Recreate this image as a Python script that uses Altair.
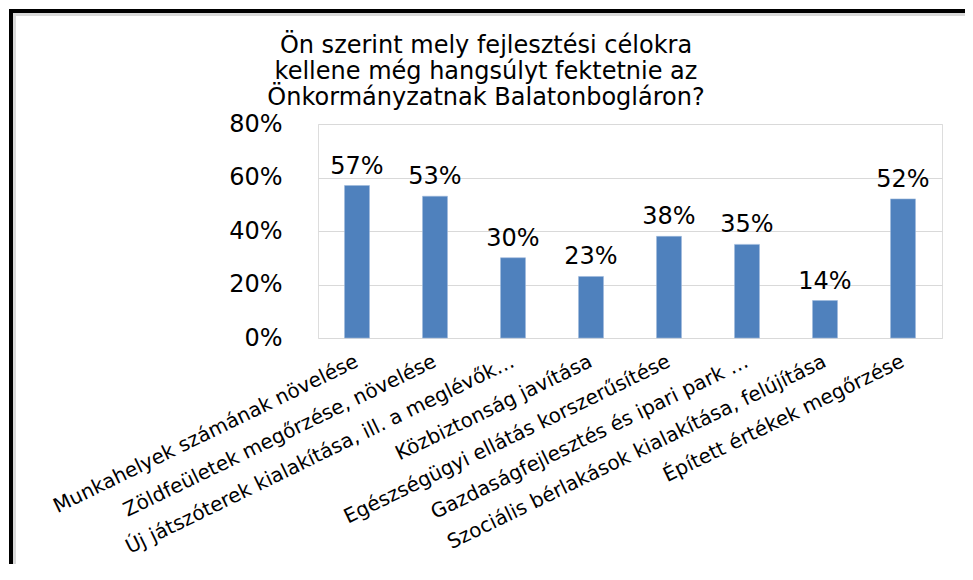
import altair as alt
import pandas as pd

categories = [
    "Munkahelyek számának növelése",
    "Zöldfeületek megőrzése, növelése",
    "Új játszóterek kialakítása, ill. a meglévők…",
    "Közbiztonság javítása",
    "Egészségügyi ellátás korszerűsítése",
    "Gazdaságfejlesztés és ipari park …",
    "Szociális bérlakások kialakítása, felújítása",
    "Épített értékek megőrzése",
]
values = [0.57, 0.53, 0.30, 0.23, 0.38, 0.35, 0.14, 0.52]
y_ticks = [0, 0.2, 0.4, 0.6, 0.8]
title_lines = [
    "Ön szerint mely fejlesztési célokra",
    "kellene még hangsúlyt fektetnie az",
    "Önkormányzatnak Balatonbogláron?",
]

FONT = "DejaVu Sans"
df = pd.DataFrame({"cat": categories, "val": values})

x_enc = alt.X(
    "cat:N",
    sort=None,
    title=None,
    scale=alt.Scale(paddingInner=0.68, paddingOuter=0.34),
    axis=alt.Axis(
        labelAngle=-26,
        labelAlign="right",
        labelBaseline="middle",
        labelPadding=22,
        labelFontSize=20,
        labelFont=FONT,
        labelColor="black",
        labelLimit=800,
        ticks=False,
        domain=False,
        grid=False,
    ),
)
y_enc = alt.Y(
    "val:Q",
    title=None,
    scale=alt.Scale(domain=[0, 0.8], nice=False),
    axis=alt.Axis(
        values=y_ticks,
        format=".0%",
        labelFontSize=24,
        labelFont=FONT,
        labelColor="black",
        labelPadding=36,
        ticks=False,
        domain=False,
        gridColor="#d9d9d9",
        gridWidth=1,
    ),
)

base = alt.Chart(df)
bars = base.mark_bar(color="#4F81BD", stroke="#9db8dc", strokeWidth=0.6).encode(x=x_enc, y=y_enc)
labels = base.mark_text(
    baseline="alphabetic", dy=-12, fontSize=24, font=FONT, color="black"
).encode(x=alt.X("cat:N", sort=None), y="val:Q", text=alt.Text("val:Q", format=".0%"))

one = alt.Data(values=[{"k": 1}])
title_mark = alt.Chart(one).mark_text(
    align="center",
    baseline="alphabetic",
    fontSize=24,
    font=FONT,
    color="black",
    lineHeight=26,
    lineBreak="\n",
).encode(x=alt.value(168), y=alt.value(-71), text=alt.value("\n".join(title_lines)))

frame_top = alt.Chart(one).mark_rule(color="black", strokeWidth=4).encode(
    x=alt.value(-309), x2=alt.value(647), y=alt.value(-113)
)
frame_left = alt.Chart(one).mark_rule(color="black", strokeWidth=4).encode(
    x=alt.value(-307), y=alt.value(-115), y2=alt.value(440)
)
shadow_top = alt.Chart(one).mark_rule(color="#d9d9d9", strokeWidth=3).encode(
    x=alt.value(-305), x2=alt.value(647), y=alt.value(-109.5)
)
shadow_left = alt.Chart(one).mark_rule(color="#d9d9d9", strokeWidth=3).encode(
    x=alt.value(-303.5), y=alt.value(-111), y2=alt.value(440)
)

chart = (
    alt.layer(shadow_top, shadow_left, frame_top, frame_left, title_mark, bars, labels)
    .properties(
        width=624,
        height=214,
        padding={"left": 310, "top": 116, "right": 23, "bottom": 226},
        autosize=alt.AutoSizeParams(type="none"),
    )
    .configure_view(strokeWidth=0)
    .configure(background="white")
)

chart.save("out.html", embed_options={"renderer": "svg", "actions": False})
